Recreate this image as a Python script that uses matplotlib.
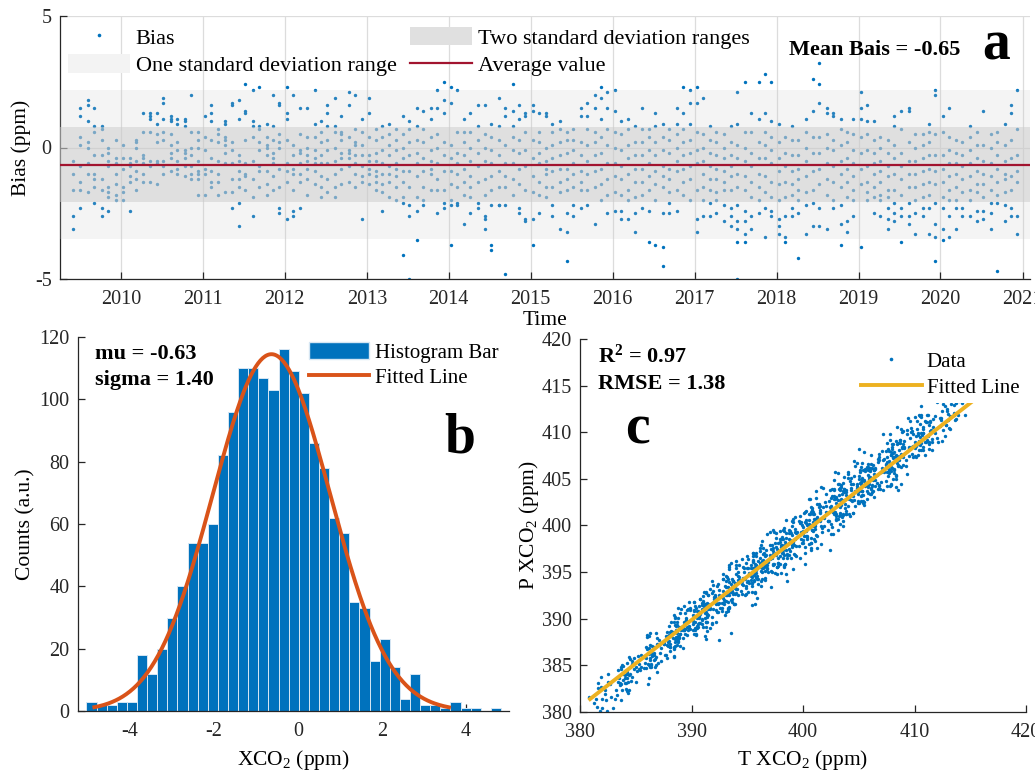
import numpy as np
import pandas as pd
import matplotlib
matplotlib.use('Agg')
import matplotlib.pyplot as plt
import matplotlib.dates as mdates
from matplotlib.patches import Patch
from matplotlib.lines import Line2D

plt.rcParams['font.family'] = ['Liberation Serif', 'DejaVu Serif']
plt.rcParams['mathtext.fontset'] = 'custom'
plt.rcParams['mathtext.rm'] = 'Liberation Serif'
plt.rcParams['mathtext.it'] = 'Liberation Serif:italic'
plt.rcParams['mathtext.bf'] = 'Liberation Serif:bold'
plt.rcParams['axes.unicode_minus'] = False

# ---------------- data ----------------
obs_dates = [
    # 2009
    '2009-06-03', '2009-07-02', '2009-08-06', '2009-09-04', '2009-10-08', '2009-11-05', '2009-12-10',
    # 2010
    '2010-01-12', '2010-02-09', '2010-03-11', '2010-04-08', '2010-05-13', '2010-06-10',
    '2010-07-08', '2010-08-12', '2010-09-09', '2010-10-14', '2010-11-11', '2010-12-09',
    # 2011
    '2011-01-12', '2011-02-09', '2011-03-11', '2011-04-08', '2011-05-13', '2011-06-10',
    '2011-07-08', '2011-08-12', '2011-09-09', '2011-10-14', '2011-11-11', '2011-12-09',
    # 2012
    '2012-01-12', '2012-02-09', '2012-03-11', '2012-04-08', '2012-05-13', '2012-06-10',
    '2012-07-08', '2012-08-12', '2012-09-09', '2012-10-14', '2012-11-11', '2012-12-09',
    # 2013
    '2013-01-12', '2013-02-09', '2013-03-11', '2013-04-08', '2013-05-13', '2013-06-10',
    '2013-07-08', '2013-08-12', '2013-09-09', '2013-10-14', '2013-11-11', '2013-12-09',
    # 2014
    '2014-01-12', '2014-02-09', '2014-03-11', '2014-04-08', '2014-05-13', '2014-06-10',
    '2014-07-08', '2014-08-12', '2014-09-09', '2014-10-14', '2014-11-11', '2014-12-09',
    # 2015
    '2015-01-12', '2015-02-09', '2015-03-11', '2015-04-08', '2015-05-13', '2015-06-10',
    '2015-07-08', '2015-08-12', '2015-09-09', '2015-10-14', '2015-11-11', '2015-12-09',
    # 2016
    '2016-01-12', '2016-02-09', '2016-03-11', '2016-04-08', '2016-05-13', '2016-06-10',
    '2016-07-08', '2016-08-12', '2016-09-09', '2016-10-14', '2016-11-11', '2016-12-09',
    # 2017
    '2017-01-12', '2017-02-09', '2017-03-11', '2017-04-08', '2017-05-13', '2017-06-10',
    '2017-07-08', '2017-08-12', '2017-09-09', '2017-10-14', '2017-11-11', '2017-12-09',
    # 2018
    '2018-01-12', '2018-02-09', '2018-03-11', '2018-04-08', '2018-05-13', '2018-06-10',
    '2018-07-08', '2018-08-12', '2018-09-09', '2018-10-14', '2018-11-11', '2018-12-09',
    # 2019
    '2019-01-12', '2019-02-09', '2019-03-11', '2019-04-08', '2019-05-13', '2019-06-10',
    '2019-07-08', '2019-08-12', '2019-09-09', '2019-10-14', '2019-11-11', '2019-12-09',
    # 2020
    '2020-01-12', '2020-02-09', '2020-03-11', '2020-04-08', '2020-05-13', '2020-06-10',
    '2020-07-08', '2020-08-12', '2020-09-09', '2020-10-14', '2020-11-11', '2020-12-09',
]

# reference (T) XCO2 on each observation date, ppm
tccon_xco2 = [
    386.4, 384.0, 382.0, 381.4, 382.4, 383.6, 384.4,
    387.5, 388.2, 388.9, 389.5, 389.7, 388.7, 386.3, 384.3, 383.7, 384.7, 385.9, 386.7,
    389.6, 390.3, 391.0, 391.6, 391.8, 390.8, 388.4, 386.4, 385.8, 386.8, 388.0, 388.8,
    391.9, 392.6, 393.3, 393.9, 394.1, 393.1, 390.7, 388.7, 388.1, 389.1, 390.3, 391.1,
    394.6, 395.3, 396.0, 396.6, 396.8, 395.8, 393.4, 391.4, 390.8, 391.8, 393.0, 393.8,
    396.7, 397.4, 398.1, 398.7, 398.9, 397.9, 395.5, 393.5, 392.9, 393.9, 395.1, 395.9,
    398.9, 399.6, 400.3, 400.9, 401.1, 400.1, 397.7, 395.7, 395.1, 396.1, 397.3, 398.1,
    401.9, 402.6, 403.3, 403.9, 404.1, 403.1, 400.7, 398.7, 398.1, 399.1, 400.3, 401.1,
    404.2, 404.9, 405.6, 406.2, 406.4, 405.4, 403.0, 401.0, 400.4, 401.4, 402.6, 403.4,
    406.5, 407.2, 407.9, 408.5, 408.7, 407.7, 405.3, 403.3, 402.7, 403.7, 404.9, 405.7,
    409.0, 409.7, 410.4, 411.0, 411.2, 410.2, 407.8, 405.8, 405.2, 406.2, 407.4, 408.2,
    411.7, 412.4, 413.1, 413.7, 413.9, 412.9, 410.5, 408.5, 407.9, 408.9, 410.1, 410.9,
]

# bias (P - T) of the soundings on each observation date, ppm
bias_ppm = [
    # 2009
    [-1.0, -3.1, -2.6, -0.5, -1.6],
    [1.5, 1.2, 0.4, 0.1, -1.3, -1.6, -0.7, -2.3],
    [1.8, 1.6, 1.0, 0.2, 0.0, -0.6, -1.0, -1.7],
    [1.5, 0.8, 0.6, -0.3, -1.0, -1.5, -2.1, -1.2],
    [0.8, 0.7, 0.3, -0.3, -1.2, -1.6, -2.3, -2.6],
    [0.0, -0.2, -0.7, -1.7, -1.9, -2.4, -1.5, -0.5],
    [0.3, -0.4, -1.0, -1.8, -0.6, -2.0, -1.4],
    # 2010
    [-0.4, -0.8, -1.5, -1.7, -2.0, 0.1],
    [-0.7, -1.1, -0.6, -2.4, -1.3, -0.4],
    [0.2, 0.0, -0.5, -1.2, -1.6, 0.3, -0.9],
    [1.3, -0.3, -0.6, -1.3, -0.4, 0.6, -1.0],
    [1.2, 1.1, 0.6, -0.5, -1.3, -0.7, 1.3],
    [1.3, 0.2, -0.6, -0.5, -1.4, 0.9, 0.5],
    [1.9, 1.7, 1.1, 0.6, 0.3, -0.7, -0.5, -1.0],
    [1.2, 1.1, 0.5, 0.1, -0.4, -0.9, -0.2, 1.0],
    [1.1, 0.2, -0.1, -0.5, -0.8, -1.0, 0.9],
    [1.1, 1.0, -0.2, -0.4, -0.7, -1.1, 0.8, -0.1],
    [2.0, 0.6, 0.0, -0.3, -1.0, -1.2, -0.7],
    [0.6, -0.5, -1.0, -1.2, -1.8, -0.9, 0.0, 0.3],
    # 2011
    [1.2, 0.4, -0.1, -0.8, -1.8, -1.0],
    [1.6, 1.3, 1.0, -0.4, -0.9, -1.3, -1.5, 0.3],
    [0.7, 0.2, -0.5, -1.0, -1.3, -1.8, 0.5],
    [1.0, 0.9, 0.3, 0.1, -0.6, -1.7, -0.2, 0.4],
    [1.6, 1.7, 0.2, -0.1, -0.6, -1.2, -2.3, -1.7],
    [1.8, 1.1, -0.3, -0.9, -1.2, -1.5, -2.1, -3.0, -0.5],
    [2.4, 1.4, 1.3, 0.3, -0.6, -1.0, -1.6, -1.1],
    [2.2, 1.0, 0.8, 0.4, -0.5, -1.2, -1.9, -2.6],
    [2.3, 0.8, 0.7, 0.2, -0.1, -0.7, -1.5, -0.9],
    [0.9, 0.4, 0.1, -0.3, -0.9, -1.4, -1.8, 0.0],
    [2.0, 0.8, 0.3, -0.2, -0.6, -1.1, -1.6, -0.4],
    [1.7, 1.6, 0.5, 0.0, -0.8, -1.5, -2.3, -2.5, 0.2],
    # 2012
    [2.3, 1.3, 1.1, 0.3, -0.6, -0.9, -1.3, -2.7],
    [2.0, 0.1, -0.3, -0.8, -1.0, -1.6, -2.4, -2.6],
    [1.5, 0.5, -0.2, -0.6, -1.0, -1.3, -2.3, -0.1],
    [1.5, 0.4, -0.3, -0.5, -0.8, -1.2, -1.8, 0.0],
    [2.2, 0.9, 0.4, -0.1, -0.4, -0.9, -1.4, -0.6],
    [1.0, 0.6, 0.2, -0.3, -0.6, -1.1, -1.5, -1.9],
    [1.6, 1.3, 0.8, 0.3, -0.1, -0.6, -1.2, -1.7],
    [1.9, 0.8, 0.6, 0.0, -0.5, -1.0, -1.5, -1.9],
    [1.2, 0.6, 0.5, 0.3, -0.2, -0.8, -1.4, -0.4],
    [2.1, 1.6, 0.4, -0.1, -0.4, -0.7, -1.3, -0.2],
    [2.0, 0.7, 0.2, -0.3, -0.6, -1.0, -1.5, 0.1],
    [1.1, 0.6, 0.1, -0.3, -0.7, -1.1, -1.3, -2.7],
    # 2013
    [1.9, 1.3, 0.4, -0.5, -0.8, -1.0, -1.4, -0.3],
    [0.7, 0.3, -0.2, -0.5, -0.9, -1.1, -1.3, -1.6],
    [0.8, 0.4, -0.1, -0.6, -1.0, -1.4, -1.7, -2.4],
    [0.9, 0.5, 0.1, -0.3, -0.7, -1.0, -1.3, -1.9],
    [0.7, 0.3, -0.1, -0.6, -1.1, -1.5, -2.0, -0.8],
    [1.2, 0.5, 0.0, -0.4, -0.9, -1.3, -1.9, -2.1, -4.1],
    [1.0, 0.7, 0.2, -0.3, -0.9, -1.5, -2.2, -2.6, -5.0],
    [1.5, 0.8, 0.3, -0.2, -0.6, -1.1, -1.9, -2.4, -3.5],
    [1.4, 0.7, 0.2, -0.4, -0.9, -1.5, -2.2, -2.0],
    [1.5, 1.1, 0.4, -0.1, -0.5, -1.0, -1.6, -0.8],
    [2.2, 1.5, 0.5, 0.0, -0.6, -1.2, -1.6, -2.5],
    [2.5, 1.8, 1.3, 0.2, -0.3, -0.9, -1.6, -2.1, -2.3],
    # 2014
    [2.3, 1.7, 0.1, -0.4, -0.9, -1.4, -2.0, -3.7, -2.2],
    [2.2, 0.6, -0.2, -0.6, -1.0, -1.5, -2.1, -2.2],
    [1.1, 0.6, 0.2, -0.3, -0.8, -1.3, -1.8, -2.9],
    [1.3, 0.6, 0.0, -0.5, -1.1, -1.5, -1.9, -2.5],
    [1.6, 0.8, 0.3, -0.2, -0.7, -1.3, -2.1, -2.3],
    [1.6, 0.5, 0.0, -0.5, -1.2, -1.8, -2.7, -2.6, -3.1],
    [0.9, 0.4, -0.1, -0.6, -1.1, -1.6, -2.2, -3.7, -3.9],
    [1.9, 0.8, 0.3, -0.3, -0.9, -1.5, -2.2, -2.2],
    [1.5, 1.2, 0.1, -0.6, -1.1, -1.5, -2.2, -4.8],
    [2.4, 1.4, 0.8, 0.4, -0.1, -0.6, -1.2, -1.8],
    [1.6, 1.1, 0.3, -0.2, -0.8, -1.4, -2.3, -2.5],
    [1.3, 1.2, 0.6, -0.1, -0.7, -1.6, -2.7, -2.8],
    # 2015
    [1.6, 1.4, 0.3, -0.4, -1.1, -1.7, -2.7, -3.7],
    [1.3, 0.6, 0.2, -0.2, -0.6, -1.3, -1.8, -2.5],
    [1.3, 1.2, 0.0, -0.5, -1.0, -1.5, -1.9, -0.8],
    [0.9, 0.6, 0.1, -0.4, -0.9, -1.5, -2.2, -2.6],
    [1.0, 0.7, 0.2, -0.3, -0.8, -1.3, -1.7, -3.1],
    [0.6, 0.3, -0.2, -0.8, -1.2, -1.6, -2.5, -3.2, -4.3],
    [0.7, 0.3, -0.1, -0.6, -1.0, -1.5, -2.2, -2.6],
    [1.5, 1.2, 0.2, -0.3, -0.9, -1.3, -1.6, -2.3],
    [1.7, 1.2, 0.7, 0.1, -0.5, -1.0, -1.6, -2.2],
    [2.0, 1.5, 0.6, 0.2, -0.3, -0.9, -1.5, -2.9],
    [2.3, 1.9, 1.1, 0.4, -0.2, -0.8, -1.4, -2.0],
    [2.1, 1.5, 0.7, 0.1, -0.6, -1.2, -1.8, -2.5],
    # 2016
    [2.2, 1.4, 0.6, 0.0, -0.6, -1.1, -1.7, -2.4],
    [1.0, 0.5, -0.1, -0.7, -1.2, -1.8, -2.4, -2.7],
    [1.1, 0.7, 0.1, -0.4, -1.0, -1.6, -2.0, -2.7],
    [0.8, 0.2, -0.3, -0.8, -1.3, -1.9, -2.5, -3.2],
    [1.5, 0.7, 0.2, -0.3, -0.8, -1.3, -1.8, -2.3],
    [0.7, 0.4, -0.1, -0.6, -1.1, -1.6, -2.4, -3.6],
    [1.3, 0.8, 0.2, -0.3, -0.9, -1.4, -2.0, -3.7],
    [0.9, 0.4, -0.1, -0.7, -1.1, -1.5, -2.5, -3.8, -4.5],
    [0.7, 0.3, -0.2, -0.8, -1.2, -1.7, -2.1, -2.5],
    [1.5, 0.9, 0.5, 0.0, -0.5, -0.9, -1.6, -2.4],
    [2.3, 1.3, 0.7, 0.2, -0.3, -0.8, -1.3, -1.8],
    [2.2, 1.7, 0.9, 0.3, -0.2, -0.7, -1.2, -2.0],
    # 2017
    [2.3, 1.7, 0.6, -0.1, -0.6, -1.6, -2.7, -3.2],
    [1.9, 0.5, 0.0, -0.5, -1.0, -1.5, -2.0, -2.6],
    [0.8, 0.3, -0.2, -0.7, -1.2, -1.6, -2.1, -2.6],
    [0.6, 0.2, -0.3, -0.8, -1.2, -1.7, -2.0, -2.5],
    [0.5, 0.0, -0.4, -0.9, -1.3, -1.6, -2.2, -2.8],
    [0.8, 0.2, -0.3, -0.7, -1.1, -1.6, -2.3, -2.6, -3.0],
    [2.1, 0.9, 0.1, -0.4, -1.0, -1.5, -2.2, -2.8, -3.1, -3.6, -5.0],
    [2.5, 0.6, 0.0, -0.5, -1.1, -1.6, -2.4, -2.8, -3.3, -3.6],
    [1.3, 0.6, -0.2, -0.7, -1.3, -1.9, -2.6, -3.1],
    [2.5, 1.1, 0.2, -0.4, -1.0, -1.5, -2.0, -2.5],
    [2.8, 1.3, 0.6, 0.1, -0.4, -1.1, -1.7, -2.3, -3.4],
    [2.5, 1.0, 0.4, -0.1, -0.6, -1.3, -1.9, -2.4, -2.6],
    # 2018
    [0.9, 0.2, -0.4, -0.9, -1.4, -2.0, -2.7, -3.0, -3.3],
    [0.4, -0.2, -0.7, -1.3, -1.9, -2.6, -3.4, -3.6],
    [0.8, 0.3, -0.3, -0.9, -1.4, -1.8, -2.3, -2.6],
    [0.3, -0.3, -0.8, -1.2, -1.6, -2.0, -2.5, -4.2],
    [1.1, 0.6, 0.0, -0.5, -1.1, -1.7, -2.2, -3.3],
    [2.6, 1.4, 0.4, -0.2, -0.9, -1.6, -2.1, -3.0],
    [3.2, 2.4, 1.7, 0.4, -0.2, -0.8, -1.4, -2.3, -3.0],
    [1.5, 1.3, 0.5, 0.0, -0.6, -1.2, -1.8, -3.1],
    [1.3, 1.2, 0.3, -0.1, -0.7, -1.3, -2.0, -2.3],
    [1.1, 0.7, 0.1, -0.5, -1.0, -1.5, -2.2, -2.9, -3.7],
    [0.6, 0.2, -0.4, -0.8, -1.3, -1.9, -2.8, -3.2],
    [1.1, 0.5, -0.1, -0.6, -1.1, -1.6, -2.0, -2.6],
    # 2019
    [2.1, 1.5, 1.1, 0.4, -0.2, -0.8, -1.4, -3.8],
    [1.6, 1.0, 0.5, -0.1, -0.7, -1.3, -1.7, -2.0],
    [1.0, 0.3, -0.2, -0.6, -1.0, -1.5, -1.9, -2.5],
    [0.4, 0.0, -0.5, -0.9, -1.3, -1.8, -2.0, -2.6],
    [0.3, -0.2, -0.7, -1.1, -1.6, -1.9, -2.3, -2.7, -3.1],
    [1.2, 0.8, 0.1, -0.4, -1.0, -1.6, -2.1, -2.5, -2.8],
    [1.4, 0.7, -0.2, -0.7, -1.2, -1.8, -2.3, -2.6, -3.6],
    [1.5, 1.4, 0.2, -0.5, -1.0, -1.5, -2.1, -2.6, -2.9],
    [0.5, 0.0, -0.5, -1.0, -1.5, -2.0, -2.5, -3.3],
    [0.5, 0.1, -0.4, -0.9, -1.4, -1.9, -2.3, -2.6],
    [0.9, 0.6, 0.2, -0.3, -0.8, -1.3, -1.8, -2.3, -3.3],
    [2.2, 2.0, 0.5, -0.3, -0.9, -1.4, -2.1, -2.9, -3.4, -4.3],
    # 2020
    [1.2, 0.6, -0.3, -0.8, -1.3, -1.9, -2.3, -3.1, -3.5],
    [1.5, 0.4, -0.1, -0.6, -1.1, -1.6, -2.0, -2.6, -3.4],
    [0.3, -0.2, -0.6, -1.0, -1.5, -2.0, -2.3, -3.1],
    [0.2, -0.3, -0.7, -1.2, -1.7, -2.3, -2.6],
    [0.8, 0.4, -0.1, -0.6, -1.1, -1.6, -2.0, -2.6],
    [0.6, 0.1, -0.4, -0.9, -1.4, -1.7, -2.4, -2.8],
    [1.4, 0.1, -0.5, -1.0, -1.4, -1.9, -2.4, -2.7],
    [0.5, 0.0, -0.6, -1.1, -1.6, -2.1, -2.5, -3.1],
    [0.6, 0.2, -0.3, -0.8, -1.3, -1.8, -2.1, -4.7],
    [0.9, 0.1, -0.5, -1.0, -1.2, -1.7, -2.2, -2.8],
    [1.6, 1.3, 0.3, -0.4, -1.1, -1.6, -2.3, -2.6],
    [2.2, 0.7, -0.3, -0.9, -1.3, -2.6, -3.3],
]

# T of each sounding relative to the date value, tenths of ppm
tccon_offset_tenths = [
    # 2009
    '2 -3 5 -1 0', '4 -2 0 -5 6 1 -3 3', '-1 5 -4 2 -6 0 3 -2', '2 -6 4 -1 1 -3 5 -4',
    '-5 1 3 -2 4 -4 0 6', '4 -2 0 -5 6 1 -3 3', '1 -4 3 6 -2 0 -6',
    # 2010
    '-2 4 1 -5 3 0', '3 -1 -4 2 6 -2', '-3 2 5 -1 -5 4 0', '1 -4 3 6 -2 0 -6',
    '-3 2 5 -1 -5 4 0', '1 -4 3 6 -2 0 -6', '-1 5 -4 2 -6 0 3 -2', '2 -6 4 -1 1 -3 5 -4',
    '-3 2 5 -1 -5 4 0', '-5 1 3 -2 4 -4 0 6', '1 -4 3 6 -2 0 -6', '4 -2 0 -5 6 1 -3 3',
    # 2011
    '3 -1 -4 2 6 -2', '-1 5 -4 2 -6 0 3 -2', '-3 2 5 -1 -5 4 0', '2 -6 4 -1 1 -3 5 -4',
    '-5 1 3 -2 4 -4 0 6', '3 -5 0 6 -2 1 -4 4 -1', '4 -2 0 -5 6 1 -3 3', '-1 5 -4 2 -6 0 3 -2',
    '2 -6 4 -1 1 -3 5 -4', '-5 1 3 -2 4 -4 0 6', '4 -2 0 -5 6 1 -3 3', '-3 2 -6 5 0 -1 4 -4 1',
    # 2012
    '-1 5 -4 2 -6 0 3 -2', '2 -6 4 -1 1 -3 5 -4', '-5 1 3 -2 4 -4 0 6', '4 -2 0 -5 6 1 -3 3',
    '-1 5 -4 2 -6 0 3 -2', '2 -6 4 -1 1 -3 5 -4', '-5 1 3 -2 4 -4 0 6', '4 -2 0 -5 6 1 -3 3',
    '-1 5 -4 2 -6 0 3 -2', '2 -6 4 -1 1 -3 5 -4', '-5 1 3 -2 4 -4 0 6', '4 -2 0 -5 6 1 -3 3',
    # 2013
    '-1 5 -4 2 -6 0 3 -2', '2 -6 4 -1 1 -3 5 -4', '-5 1 3 -2 4 -4 0 6', '4 -2 0 -5 6 1 -3 3',
    '-1 5 -4 2 -6 0 3 -2', '3 -5 0 6 -2 1 -4 4 -1', '-3 2 -6 5 0 -1 4 -4 1', '3 -5 0 6 -2 1 -4 4 -1',
    '2 -6 4 -1 1 -3 5 -4', '-5 1 3 -2 4 -4 0 6', '4 -2 0 -5 6 1 -3 3', '-3 2 -6 5 0 -1 4 -4 1',
    # 2014
    '3 -5 0 6 -2 1 -4 4 -1', '-1 5 -4 2 -6 0 3 -2', '2 -6 4 -1 1 -3 5 -4', '-5 1 3 -2 4 -4 0 6',
    '4 -2 0 -5 6 1 -3 3', '-3 2 -6 5 0 -1 4 -4 1', '3 -5 0 6 -2 1 -4 4 -1', '-1 5 -4 2 -6 0 3 -2',
    '2 -6 4 -1 1 -3 5 -4', '-5 1 3 -2 4 -4 0 6', '4 -2 0 -5 6 1 -3 3', '-1 5 -4 2 -6 0 3 -2',
    # 2015
    '2 -6 4 -1 1 -3 5 -4', '-5 1 3 -2 4 -4 0 6', '4 -2 0 -5 6 1 -3 3', '-1 5 -4 2 -6 0 3 -2',
    '2 -6 4 -1 1 -3 5 -4', '-3 2 -6 5 0 -1 4 -4 1', '-5 1 3 -2 4 -4 0 6', '4 -2 0 -5 6 1 -3 3',
    '-1 5 -4 2 -6 0 3 -2', '2 -6 4 -1 1 -3 5 -4', '-5 1 3 -2 4 -4 0 6', '4 -2 0 -5 6 1 -3 3',
    # 2016
    '-1 5 -4 2 -6 0 3 -2', '2 -6 4 -1 1 -3 5 -4', '-5 1 3 -2 4 -4 0 6', '4 -2 0 -5 6 1 -3 3',
    '-1 5 -4 2 -6 0 3 -2', '2 -6 4 -1 1 -3 5 -4', '-5 1 3 -2 4 -4 0 6', '3 -5 0 6 -2 1 -4 4 -1',
    '4 -2 0 -5 6 1 -3 3', '-1 5 -4 2 -6 0 3 -2', '2 -6 4 -1 1 -3 5 -4', '-5 1 3 -2 4 -4 0 6',
    # 2017
    '4 -2 0 -5 6 1 -3 3', '-1 5 -4 2 -6 0 3 -2', '2 -6 4 -1 1 -3 5 -4', '-5 1 3 -2 4 -4 0 6',
    '4 -2 0 -5 6 1 -3 3', '-3 2 -6 5 0 -1 4 -4 1', '-2 4 0 -5 6 -1 2 -4 3 1 -6',
    '2 -4 5 -1 0 -6 3 1 -3 6', '-1 5 -4 2 -6 0 3 -2', '2 -6 4 -1 1 -3 5 -4',
    '3 -5 0 6 -2 1 -4 4 -1', '-3 2 -6 5 0 -1 4 -4 1',
    # 2018
    '3 -5 0 6 -2 1 -4 4 -1', '-5 1 3 -2 4 -4 0 6', '4 -2 0 -5 6 1 -3 3', '-1 5 -4 2 -6 0 3 -2',
    '2 -6 4 -1 1 -3 5 -4', '-5 1 3 -2 4 -4 0 6', '-3 2 -6 5 0 -1 4 -4 1', '4 -2 0 -5 6 1 -3 3',
    '-1 5 -4 2 -6 0 3 -2', '3 -5 0 6 -2 1 -4 4 -1', '2 -6 4 -1 1 -3 5 -4', '-5 1 3 -2 4 -4 0 6',
    # 2019
    '4 -2 0 -5 6 1 -3 3', '-1 5 -4 2 -6 0 3 -2', '2 -6 4 -1 1 -3 5 -4', '-5 1 3 -2 4 -4 0 6',
    '-3 2 -6 5 0 -1 4 -4 1', '3 -5 0 6 -2 1 -4 4 -1', '-3 2 -6 5 0 -1 4 -4 1', '3 -5 0 6 -2 1 -4 4 -1',
    '4 -2 0 -5 6 1 -3 3', '-1 5 -4 2 -6 0 3 -2', '-3 2 -6 5 0 -1 4 -4 1', '2 -4 5 -1 0 -6 3 1 -3 6',
    # 2020
    '3 -5 0 6 -2 1 -4 4 -1', '-3 2 -6 5 0 -1 4 -4 1', '2 -6 4 -1 1 -3 5 -4', '1 -4 3 6 -2 0 -6',
    '-5 1 3 -2 4 -4 0 6', '4 -2 0 -5 6 1 -3 3', '-1 5 -4 2 -6 0 3 -2', '2 -6 4 -1 1 -3 5 -4',
    '-5 1 3 -2 4 -4 0 6', '4 -2 0 -5 6 1 -3 3', '-1 5 -4 2 -6 0 3 -2', '-3 2 5 -1 -5 4 0',
]

mean_bias = -0.65
std_bias = 1.42

# histogram of the bias (panel b)
hist_left_edge = -5.04
hist_bin_width = 0.241
hist_counts = [3, 2, 2, 3, 3, 18, 12, 20, 30, 40,
               54, 54, 60, 82, 96, 110, 110, 107, 103, 116,
               109, 102, 86, 78, 62, 57, 35, 33, 16, 23,
               14, 4, 12, 2, 2, 1, 3, 1, 1, 0, 1]
fit_mu = -0.63
fit_sigma = 1.40
fit_x_range = (-4.85, 3.6)

# linear fit of P against T (panel c)
fit_slope = 0.931
fit_intercept = 26.77
fit_t_range = (380.9, 415.2)
r2_value = 0.97
rmse_value = 1.38

# ---------------- figure ----------------
blue = '#0072BD'
dark = '#262626'
W, H = 1035, 780
fig = plt.figure(figsize=(W / 100, H / 100), dpi=100)


def box(l, t, r, b):
    return [l / W, 1 - b / H, (r - l) / W, (b - t) / H]


def fpos(x, y):
    return (x / W, 1 - y / H)


def style(ax, size=14.5):
    for s in ['top', 'right']:
        ax.spines[s].set_visible(False)
    for s in ['left', 'bottom']:
        ax.spines[s].set_color(dark)
        ax.spines[s].set_linewidth(0.9)
    ax.tick_params(direction='in', length=5, width=0.9, color=dark,
                   labelcolor=dark, labelsize=size)
    ax.tick_params(axis='x', pad=8)
    ax.tick_params(axis='y', pad=6)


# ----- panel a -----
ax_a = fig.add_axes(box(60, 16, 1030, 279))
dates = pd.to_datetime(obs_dates)
xs, ys = [], []
for d, vals in zip(dates, bias_ppm, strict=True):
    xs += [d] * len(vals)
    ys += vals
ax_a.scatter(xs, ys, s=6, color=blue, linewidths=0, zorder=2)
ax_a.axhspan(mean_bias - 2 * std_bias, mean_bias + 2 * std_bias,
             color='0.8', alpha=0.2, lw=0, zorder=3)
ax_a.axhspan(mean_bias - std_bias, mean_bias + std_bias,
             color='0.8', alpha=0.5, lw=0, zorder=3)
ax_a.axhline(mean_bias, color='#A2142F', lw=1.6, zorder=4)
ax_a.set_xlim(pd.Timestamp('2009-04-05'), pd.Timestamp('2021-02-03'))
ax_a.set_ylim(-5, 5)
ax_a.set_yticks([-5, 0, 5])
ax_a.xaxis.set_major_locator(mdates.YearLocator(1))
ax_a.xaxis.set_major_formatter(mdates.DateFormatter('%Y'))
ax_a.grid(True, color='#dcdcdc', lw=0.9)
ax_a.set_axisbelow(True)
style(ax_a)
ax_a.set_ylabel('Bias (ppm)', fontsize=15.5)
ax_a.yaxis.set_label_coords(-0.03, 0.5)
ax_a.set_xlabel('Time', fontsize=15.5)
ax_a.xaxis.set_label_coords(0.5, -0.122)

h_bias = Line2D([], [], ls='none', marker='o', ms=2.6, mfc=blue, mec='none')
h_one = Patch(facecolor='#f3f3f3', edgecolor='none')
h_two = Patch(facecolor='#e0e0e0', edgecolor='none')
h_avg = Line2D([], [], color='#A2142F', lw=1.6)
fig.legend([h_bias, h_one, h_two, h_avg],
           ['Bias', 'One standard deviation range',
            'Two standard deviation ranges', 'Average value'],
           ncol=2, loc='upper left', bbox_to_anchor=fpos(68, 27),
           frameon=False, fontsize=16, borderpad=0, borderaxespad=0,
           handlelength=2.8, handleheight=0.9, handletextpad=0.25,
           columnspacing=0.6, labelspacing=0.25)
fig.text(*fpos(789, 50), 'Mean Bais = -0.65', fontsize=16, fontweight='bold',
         ha='left', va='center')
fig.text(*fpos(996, 60), 'a', fontsize=40, fontweight='bold',
         ha='center', va='baseline')

# ----- panel b -----
ax_b = fig.add_axes(box(78, 337, 509, 711))
lefts = hist_left_edge + hist_bin_width * np.arange(len(hist_counts))
ax_b.bar(lefts, hist_counts, width=hist_bin_width, align='edge',
         color=blue, edgecolor='#d6e6f3', linewidth=0.7, zorder=2)
n_total = sum(hist_counts)
xc = np.linspace(fit_x_range[0], fit_x_range[1], 300)
yc = n_total * hist_bin_width / (fit_sigma * np.sqrt(2 * np.pi)) * \
    np.exp(-0.5 * ((xc - fit_mu) / fit_sigma) ** 2)
ax_b.plot(xc, yc, color='#D95319', lw=2.8, zorder=3)
ax_b.set_xlim(-5.24, 5.03)
ax_b.set_ylim(0, 120)
ax_b.set_xticks([-4, -2, 0, 2, 4])
ax_b.set_yticks(range(0, 121, 20))
style(ax_b)
ax_b.set_ylabel('Counts (a.u.)', fontsize=15.5)
ax_b.yaxis.set_label_coords(-0.098, 0.5)
ax_b.set_xlabel('XCO$_\\mathregular{2}$ (ppm)', fontsize=15.5)
ax_b.xaxis.set_label_coords(0.5, -0.1)
ax_b.legend([Patch(facecolor=blue, edgecolor='#d6e6f3'),
             Line2D([], [], color='#D95319', lw=2.8)],
            ['Histogram Bar', 'Fitted Line'],
            loc='upper left', bbox_to_anchor=fpos(309, 342),
            bbox_transform=fig.transFigure, frameon=False, fontsize=15,
            borderpad=0, borderaxespad=0, handlelength=2.9,
            handleheight=0.85, handletextpad=0.25, labelspacing=0.22)
fig.text(*fpos(95, 359), 'mu = %.2f' % fit_mu, fontsize=16,
         fontweight='bold', ha='left', va='baseline')
fig.text(*fpos(95, 385), 'sigma = %.2f' % fit_sigma, fontsize=16,
         fontweight='bold', ha='left', va='baseline')
fig.text(*fpos(460, 452), 'b', fontsize=40, fontweight='bold',
         ha='center', va='baseline')

# ----- panel c -----
ax_c = fig.add_axes(box(580, 339, 1026, 712))
t_pts, p_pts = [], []
for t0, offs, vals in zip(tccon_xco2, tccon_offset_tenths, bias_ppm, strict=True):
    for o, b in zip(offs.split(), vals, strict=True):
        t = t0 + int(o) / 10
        t_pts.append(t)
        p_pts.append(t + b)
ax_c.scatter(t_pts, p_pts, s=6, color=blue, linewidths=0, zorder=2)
tf = np.array(fit_t_range)
ax_c.plot(tf, fit_intercept + fit_slope * tf, color='#EDB120', lw=2.8, zorder=3)
ax_c.set_xlim(380, 420)
ax_c.set_ylim(380, 420)
ax_c.set_xticks(range(380, 421, 10))
ax_c.set_yticks(range(380, 421, 5))
style(ax_c)
ax_c.set_ylabel('P XCO$_\\mathregular{2}$ (ppm)', fontsize=15.5)
ax_c.yaxis.set_label_coords(-0.088, 0.5)
ax_c.set_xlabel('T XCO$_\\mathregular{2}$ (ppm)', fontsize=15.5)
ax_c.xaxis.set_label_coords(0.5, -0.097)
leg_c = ax_c.legend([Line2D([], [], ls='none', marker='o', ms=2.6, mfc=blue, mec='none'),
                     Line2D([], [], color='#EDB120', lw=2.8)],
                    ['Data', 'Fitted Line'],
                    loc='upper left', bbox_to_anchor=fpos(856, 347),
                    bbox_transform=fig.transFigure, frameon=True, fontsize=15,
                    borderpad=0.25, borderaxespad=0, handlelength=2.9,
                    handletextpad=0.25, labelspacing=0.3, fancybox=False)
leg_c.get_frame().set_facecolor('white')
leg_c.get_frame().set_edgecolor('none')
leg_c.get_frame().set_alpha(1)
fig.text(*fpos(598, 363), r'R$^\mathbf{2}$ = %.2f' % r2_value, fontsize=16,
         fontweight='bold', ha='left', va='baseline')
fig.text(*fpos(598, 389), 'RMSE = %.2f' % rmse_value, fontsize=16,
         fontweight='bold', ha='left', va='baseline')
fig.text(*fpos(637, 443), 'c', fontsize=40, fontweight='bold',
         ha='center', va='baseline')

fig.savefig('out.png', dpi=100)
